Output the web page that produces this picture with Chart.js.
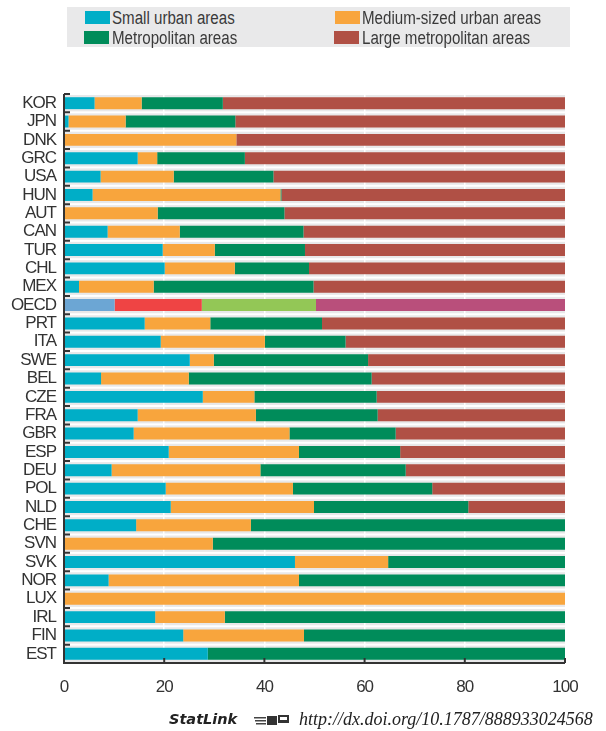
<!DOCTYPE html>
<html lang="en">
<head>
    <meta charset="UTF-8">
    <title>Urban areas by size</title>
    <script src="https://cdn.jsdelivr.net/npm/chart.js@4"></script>
    <style>
        body { margin: 0; background: #fff; font-family: "Liberation Sans", Arial, sans-serif; color: #333; }
        #wrap { position: relative; width: 606px; height: 731px; }
        #legend { position: absolute; left: 67px; top: 7px; width: 503px; height: 40px; background: #e9e9ea; }
        .item { position: absolute; font-size: 18px; line-height: 18px; white-space: nowrap; transform: scaleX(0.84); transform-origin: 0 0; color: #3a3a3a; }
        .sw { position: absolute; width: 25px; height: 13px; }
        .st { position: absolute; white-space: nowrap; color: #222; }
        .sl { font-family: "DejaVu Sans", sans-serif; font-weight: bold; font-style: italic; font-size: 14.5px; }
        .url { font-family: "Liberation Serif", serif; font-style: italic; font-size: 18px; }
    </style>
</head>
<body>
<div id="wrap">
    <canvas id="chart" width="606" height="731"></canvas>
    <div id="legend">
        <div class="sw" style="left:18px;top:4px;background:#00aec7"></div>
        <div class="item" style="left:45px;top:2px">Small urban areas</div>
        <div class="sw" style="left:17px;top:24px;background:#008c5a"></div>
        <div class="item" style="left:45px;top:22px">Metropolitan areas</div>
        <div class="sw" style="left:268px;top:4px;background:#f8a53d"></div>
        <div class="item" style="left:295px;top:2px">Medium-sized urban areas</div>
        <div class="sw" style="left:267px;top:24px;background:#b05045"></div>
        <div class="item" style="left:295px;top:22px">Large metropolitan areas</div>
    </div>
    <span class="st sl" style="left:169px;top:711px">StatLink</span>
    <svg class="st" width="35" height="11" style="left:254px;top:715px">
        <rect x="0" y="2" width="12" height="1.5" fill="#444"/>
        <rect x="1" y="5" width="11" height="1.5" fill="#444"/>
        <rect x="2" y="8" width="10" height="1.5" fill="#444"/>
        <rect x="13" y="1" width="10" height="9" fill="#333"/>
        <rect x="24" y="0" width="11" height="8" fill="#333"/>
        <rect x="26" y="2" width="7" height="3" fill="#fff"/>
    </svg>
    <span class="st url" style="left:299px;top:709px">http://dx.doi.org/10.1787/888933024568</span>
</div>

<script>
    const countries = ["KOR", "JPN", "DNK", "GRC", "USA", "HUN", "AUT", "CAN", "TUR", "CHL", "MEX",
        "OECD", "PRT", "ITA", "SWE", "BEL", "CZE", "FRA", "GBR", "ESP", "DEU", "POL", "NLD",
        "CHE", "SVN", "SVK", "NOR", "LUX", "IRL", "FIN", "EST"];

    // shares of population, %
    const small = [6.1, 0.9, 0, 14.7, 7.3, 5.7, 0, 8.7, 19.7, 20.1, 3.0,
        10.1, 16.1, 19.3, 25.1, 7.4, 27.7, 14.7, 13.9, 20.9, 9.5, 20.3, 21.3,
        14.4, 0, 46.1, 8.9, 0, 18.2, 23.8, 28.7];
    const medium = [9.4, 11.4, 34.4, 3.9, 14.6, 37.5, 18.7, 14.4, 10.4, 14.0, 14.9,
        17.4, 13.1, 20.8, 4.8, 17.5, 10.3, 23.6, 31.1, 26.0, 29.7, 25.4, 28.6,
        22.9, 29.7, 18.6, 38.0, 100, 13.9, 24.1, 0];
    const metro = [16.2, 21.9, 0, 17.5, 19.9, 0.2, 25.3, 24.7, 18.0, 14.8, 31.9,
        22.8, 22.3, 16.1, 30.8, 36.5, 24.4, 24.3, 21.2, 20.2, 29.0, 27.8, 30.8,
        62.7, 70.3, 35.3, 53.1, 0, 67.9, 52.1, 71.3];
    const large = [68.3, 65.8, 65.6, 63.9, 58.2, 56.6, 56.0, 52.2, 51.9, 51.1, 50.2,
        49.7, 48.5, 43.8, 39.3, 38.6, 37.6, 37.4, 33.8, 32.9, 31.8, 26.5, 19.3,
        0, 0, 0, 0, 0, 0, 0, 0];

    const seriesNames = ["Small urban areas", "Medium-sized urban areas", "Metropolitan areas", "Large metropolitan areas"];
    const seriesColors = ["#00aec7", "#f8a53d", "#008c5a", "#b05045"];
    const oecdColors = ["#6ca6d4", "#ef4444", "#93c756", "#b94f7b"];
    const xTicks = [0, 20, 40, 60, 80, 100];

    const FONT = "'Liberation Sans', Arial, sans-serif";

    const rowBands = {
        id: "rowBands",
        beforeDraw(chart) {
            const { ctx, chartArea: a, scales: { y } } = chart;
            const h = (a.bottom - a.top) / countries.length;
            ctx.save();
            ctx.fillStyle = "#e8e8e9";
            countries.forEach((c, i) => {
                const yc = y.getPixelForValue(i);
                ctx.fillRect(a.left, yc - h / 2 + 1, a.right - a.left, h - 2);
            });
            ctx.restore();
            // narrow look for the tick labels
            ctx.letterSpacing = "-1px";
        },
        afterDatasetsDraw(chart) {
            const { ctx, chartArea: a, scales: { x, y } } = chart;
            const h = (a.bottom - a.top) / countries.length;
            ctx.save();
            ctx.strokeStyle = "#333";
            ctx.lineWidth = 2;
            ctx.beginPath();
            ctx.moveTo(a.left, a.top);
            ctx.lineTo(a.left, a.bottom);
            ctx.lineTo(a.right, a.bottom);
            // row ticks on the left
            countries.forEach((c, i) => {
                const yt = y.getPixelForValue(i) - h / 2;
                ctx.moveTo(a.left, yt);
                ctx.lineTo(a.left + 6, yt);
            });
            // value ticks on the bottom
            xTicks.slice(1).forEach(v => {
                const xp = x.getPixelForValue(v);
                ctx.moveTo(xp, a.bottom);
                ctx.lineTo(xp, a.bottom - 5);
            });
            ctx.stroke();
            ctx.restore();
        }
    };

    const datasets = [small, medium, metro, large].map((vals, k) => ({
        label: seriesNames[k],
        data: vals,
        backgroundColor: countries.map(c => c === "OECD" ? oecdColors[k] : seriesColors[k]),
        borderWidth: 0,
        barPercentage: 0.65,
        categoryPercentage: 1
    }));

    new Chart(document.getElementById("chart"), {
        type: "bar",
        data: { labels: countries, datasets: datasets },
        options: {
            indexAxis: "y",
            responsive: false,
            animation: false,
            layout: { padding: { left: 0, top: 94, right: 41, bottom: 0 } },
            plugins: { legend: { display: false }, tooltip: { enabled: false } },
            scales: {
                x: {
                    stacked: true,
                    min: 0,
                    max: 100,
                    afterBuildTicks: s => { s.ticks = xTicks.map(v => ({ value: v })); },
                    afterFit: s => { s.height = 68; },
                    grid: {
                        drawTicks: false,
                        color: c => (c.tick && c.tick.value > 0 && c.tick.value < 100) ? "#ffffff" : "rgba(0,0,0,0)",
                        lineWidth: 1.5
                    },
                    border: { display: false },
                    ticks: { color: "#333", font: { family: FONT, size: 17 }, padding: 14 }
                },
                y: {
                    stacked: true,
                    afterFit: s => { s.width = 64; },
                    grid: { display: false, drawTicks: false },
                    border: { display: false },
                    ticks: { autoSkip: false, color: "#333", font: { family: FONT, size: 17 }, padding: 8 }
                }
            }
        },
        plugins: [rowBands]
    });
</script>
</body>
</html>
